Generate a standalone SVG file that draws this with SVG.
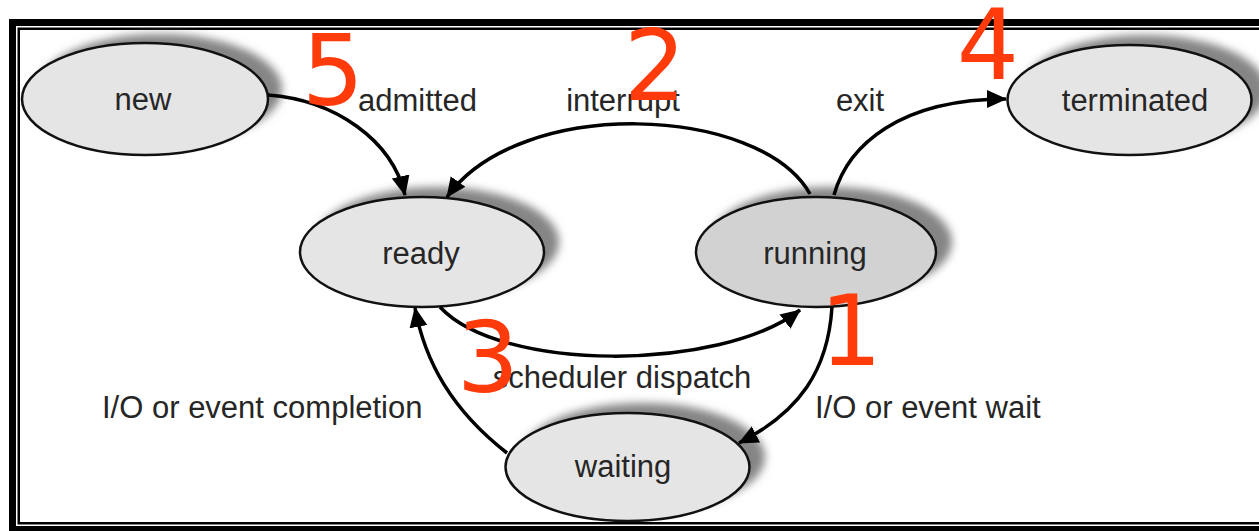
<svg xmlns="http://www.w3.org/2000/svg" width="1259" height="531" viewBox="0 0 1259 531">
<style>
.node{stroke:#111;stroke-width:2.5}
.lite{fill:#e6e5e6}
.dark{fill:#d3d2d3}
.shadow{fill:#858585;filter:url(#blur)}
.lbl{font-family:"Liberation Sans",Arial,sans-serif;font-size:31px;fill:#262626}
.num{font-family:"DejaVu Sans",sans-serif;font-size:98px;fill:#ff3b0c;text-anchor:middle}
.edge{fill:none;stroke:#000;stroke-width:3.5}
</style>
<defs>
<filter id="blur" x="-20%" y="-30%" width="140%" height="160%"><feGaussianBlur stdDeviation="4.5"/></filter>
<marker id="arr" markerUnits="userSpaceOnUse" markerWidth="24" markerHeight="20" refX="19" refY="9" orient="auto">
<path d="M0,0 L20,9 L0,18 Z" fill="#000"/>
</marker>
</defs>
<rect x="0" y="0" width="1259" height="531" fill="#fff"/>
<rect x="9" y="19" width="1300" height="520" fill="#000"/>
<rect x="16" y="26" width="1300" height="500" fill="#fff"/>
<rect x="18.75" y="28.75" width="1300" height="494.5" fill="#fff" stroke="#000" stroke-width="2.5"/>

<g id="node-new">
<ellipse class="shadow" cx="160" cy="89" rx="122" ry="55"/>
<ellipse class="node lite" cx="145" cy="99" rx="123" ry="56"/>
<text class="lbl" x="143" y="110" text-anchor="middle">new</text>
</g>
<g id="node-terminated">
<ellipse class="shadow" cx="1145" cy="90" rx="122" ry="55"/>
<ellipse class="node lite" cx="1129.5" cy="100" rx="122" ry="55"/>
<text class="lbl" x="1135" y="111" text-anchor="middle">terminated</text>
</g>
<g id="node-ready">
<ellipse class="shadow" cx="437" cy="242" rx="122" ry="55"/>
<ellipse class="node lite" cx="422" cy="252" rx="122" ry="55"/>
<text class="lbl" x="421" y="264" text-anchor="middle">ready</text>
</g>
<g id="node-running">
<ellipse class="shadow" cx="831" cy="242" rx="121" ry="55"/>
<ellipse class="node dark" cx="816" cy="252" rx="120" ry="55"/>
<text class="lbl" x="815" y="264" text-anchor="middle">running</text>
</g>
<g id="node-waiting">
<ellipse class="shadow" cx="643" cy="457" rx="122" ry="54"/>
<ellipse class="node lite" cx="627.5" cy="467" rx="122" ry="54"/>
<text class="lbl" x="623" y="477" text-anchor="middle">waiting</text>
</g>

<g id="connectors">
<path class="edge" d="M268,95 C335,100 392,140 405,195" marker-end="url(#arr)"/>
<path class="edge" d="M810,194 C760,105 520,95 447,197" marker-end="url(#arr)"/>
<path class="edge" d="M834,195 C848,145 900,99 1006,99" marker-end="url(#arr)"/>
<path class="edge" d="M440,307 C500,372 720,372 800,310" marker-end="url(#arr)"/>
<path class="edge" d="M832,307 C828,370 800,412 739,443" marker-end="url(#arr)"/>
<path class="edge" d="M507,453 C452,410 425,362 415,308" marker-end="url(#arr)"/>
</g>

<g id="labels">
<text class="lbl" x="358" y="111">admitted</text>
<text class="lbl" x="623" y="111" text-anchor="middle">interrupt</text>
<text class="lbl" x="860" y="111" text-anchor="middle">exit</text>
<text class="lbl" x="622" y="388" text-anchor="middle">scheduler dispatch</text>
<text class="lbl" x="102" y="418">I/O or event completion</text>
<text class="lbl" x="815" y="418">I/O or event wait</text>
</g>

<g id="numbers">
<text class="num" x="333" y="105">5</text>
<text class="num" x="655" y="100">2</text>
<text class="num" x="988" y="79">4</text>
<text class="num" x="488" y="392">3</text>
<text class="num" x="851" y="365">1</text>
</g>
</svg>
